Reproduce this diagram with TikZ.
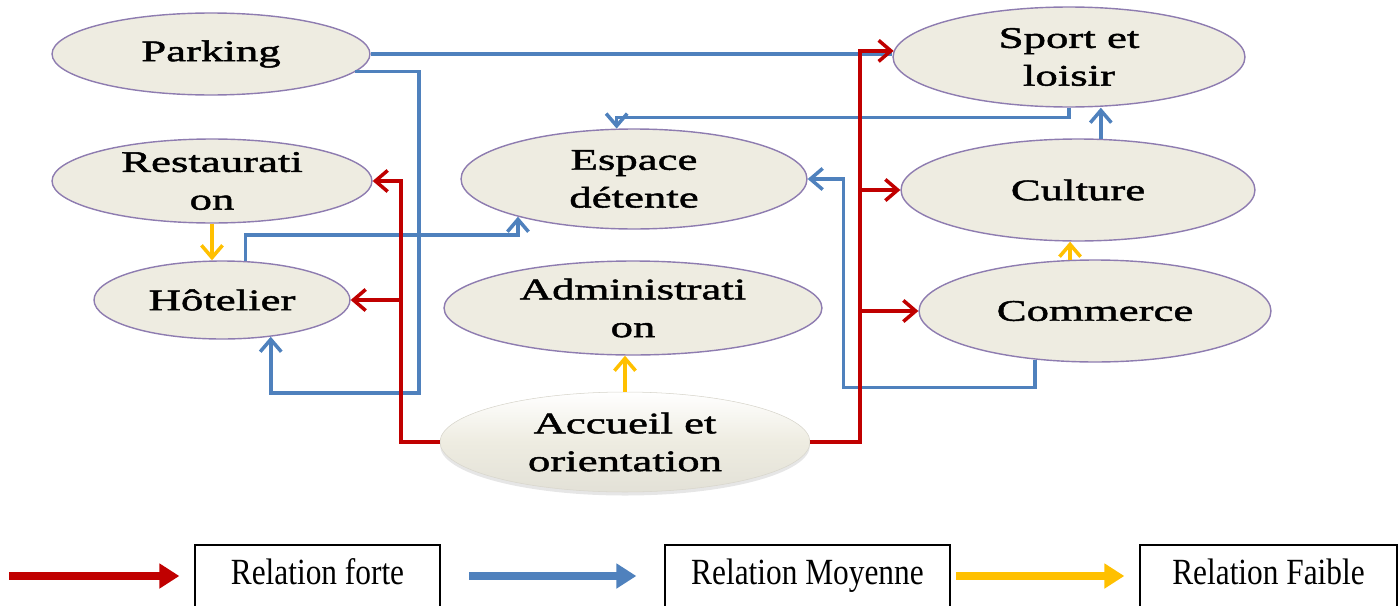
\documentclass[tikz,border=0pt]{standalone}
\usepackage{fontspec}
\usetikzlibrary{arrows.meta, calc, shapes.geometric, shadows}
\setmainfont{Liberation Serif}
\newfontfamily\bubblefont[FakeStretch=1.5,FakeBold=1.6]{Liberation Serif}
\newfontfamily\keyfont[FakeStretch=0.85]{Liberation Serif}
\definecolor{RelR}  {HTML}{C00000}
\definecolor{RelB}  {HTML}{4F81BD}
\definecolor{RelY}  {HTML}{FFC000}
\definecolor{Beige} {HTML}{EEECE1}
\definecolor{Lila}  {HTML}{8E7CB0}
\tikzset{
  bub/.style args={#1/#2}{
    ellipse, draw=Lila, fill=Beige,
    line width=0.8pt, inner sep=0pt, align=center,
    minimum width=#1, minimum height=#2,
    font=\bubblefont\fontsize{17}{21.5}\selectfont,
  },
  % raised bubble
  hub/.style={
    draw=Beige!80!gray, line width=0.3pt,
    top color=white, bottom color=Beige!90!gray, middle color=Beige,
    drop shadow={opacity=0.2, shadow xshift=0pt, shadow yshift=-2pt},
  },
  arr/.style args={#1}{
    -{Straight Barb[length=7pt,width=12pt]},
    line width=2pt, color=#1,
  },
  key/.style args={#1}{
    rectangle, draw=black, line width=0.8pt,
    minimum width=#1, minimum height=1.24cm,
    text height=14pt, text depth=4pt,
    font=\keyfont\fontsize{21}{25}\selectfont,
  },
  bigarr/.style args={#1}{
    -{Triangle[length=0.4cm,width=0.48cm]},
    line width=0.17cm, color=#1,
  },
}
\begin{document}
\begin{tikzpicture}[x=0.02cm,y=-0.02cm]
  \useasboundingbox (0,0) rectangle (1399,605);
  % bubbles
  \node[bub=6.36cm/1.64cm] (park)  at (211,54)  {Parking};
  \node[bub=6.4cm/1.68cm]  (rest)  at (212,181) {Restaurati\\on};
  \node[bub=5.12cm/1.56cm] (hot)   at (222,300) {Hôtelier};
  \node[bub=6.92cm/2cm]    (esp)   at (634,179) {Espace\\détente};
  \node[bub=7.56cm/1.88cm] (adm)   at (633,308) {Administrati\\on};
  \node[bub=7.4cm/2cm,hub] (acc)   at (625,442) {Accueil et\\orientation};
  \node[bub=7.04cm/2cm]    (sport) at (1069,57) {Sport et\\loisir};
  \node[bub=7.08cm/2.04cm] (cult)  at (1078,190){Culture};
  \node[bub=7.04cm/2.04cm] (comm)  at (1095,311){Commerce};
  % blue links
  \draw[RelB,line width=2pt] (park.east) -- (park.east -| sport.west);
  \draw[arr=RelB] (park.-7) -| (419,393) -| (hot.-37);
  \draw[arr=RelB] (hot.59) -- ++(0,-26) -| (esp.198);
  \draw[arr=RelB] (sport.south) -- ++(0,10) -| (esp.109);
  \draw[arr=RelB] (cult.66) -- (cult.66 |- sport.south);
  \draw[arr=RelB] (comm.219) -- ++(0,28) -| ($(esp.east)+(36,0)$) -- (esp.east);
  % red links
  \coordinate (rl) at ($(acc.west)+(-39,0)$);
  \coordinate (rr) at ($(acc.east)+(50,0)$);
  \draw[arr=RelR] (acc.west) -- (rl) |- (rest.east);
  \draw[arr=RelR] (rl) |- (hot.east);
  \draw[arr=RelR] (acc.east) -- (rr) |- (sport.178);
  \draw[arr=RelR] (rr) |- (cult.west);
  \draw[arr=RelR] (rr) |- (comm.west);
  % yellow links
  \draw[arr=RelY] (rest.south) -- (rest.south |- hot.north);
  \draw[arr=RelY] (acc.north) -- (acc.north |- adm.south);
  \draw[arr=RelY] (comm.116) -- (comm.116 |- cult.south);
  % legend
  \node[key=4.9cm]  (kf) at (317.5,576)  {Relation forte};
  \node[key=5.7cm]  (km) at (807.5,576)  {Relation Moyenne};
  \node[key=5.14cm] (kw) at (1268.5,576) {Relation Faible};
  \draw[bigarr=RelR] ($(kf.west)+(-185,0)$) -- ($(kf.west)+(-15,0)$);
  \draw[bigarr=RelB] ($(km.west)+(-195,0)$) -- ($(km.west)+(-28,0)$);
  \draw[bigarr=RelY] ($(kw.west)+(-183,0)$) -- ($(kw.west)+(-15,0)$);
\end{tikzpicture}
\end{document}
